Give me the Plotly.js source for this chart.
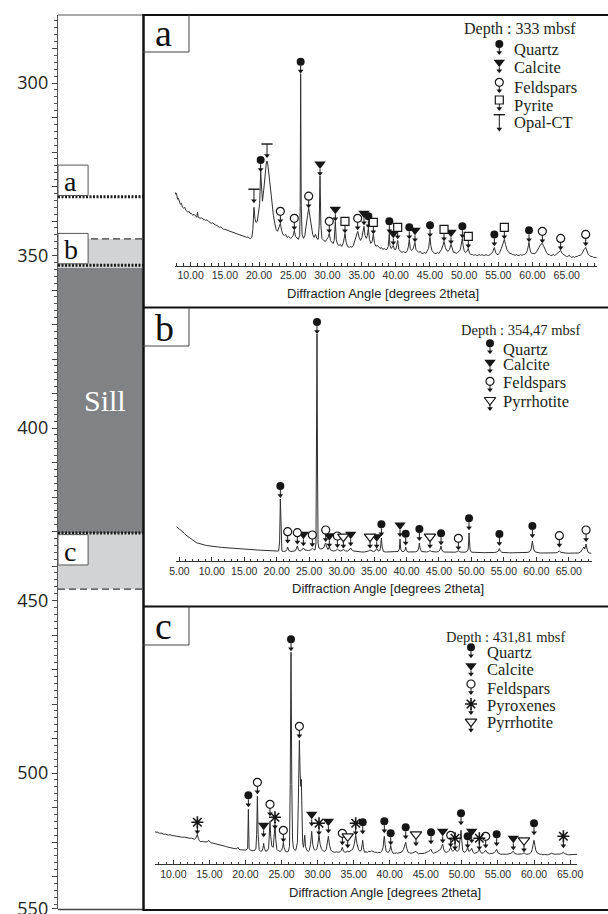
<!DOCTYPE html>
<html><head><meta charset="utf-8">
<script src="https://cdn.plot.ly/plotly-3.0.1.min.js"></script>
<style>html,body{margin:0;padding:0;background:#fff}#chart{width:608px;height:914px}</style>
</head><body><div id="chart"></div>
<script>
// ---------------- DATA ----------------
// Left column (depth, mbsf)
const sampleNames = ['a', 'b', 'c'];
const sampleDepths = [333.0, 352.8, 430.4];
const sillDepths = [353.6, 430.4];
const lightZones = [[345.2, 353.6], [430.4, 446.7]];
const dashedDepths = [345.2, 446.7];
const depthTicks = [290,300,310,320,330,340,350,360,370,380,390,400,410,420,430,440,450,460,470,480,490,500,510,520,530,539.3];
const depthTickText = ['','300','','','','','350','','','','','400','','','','','450','','','','','500','','','','550'];

// Panel titles
const depthTitles = ['Depth : 333 mbsf', 'Depth : 354,47 mbsf', 'Depth : 431,81 mbsf'];
const legendA = ['Quartz', 'Calcite', 'Feldspars', 'Pyrite', 'Opal-CT'];
const legendB = ['Quartz', 'Calcite', 'Feldspars', 'Pyrrhotite'];
const legendC = ['Quartz', 'Calcite', 'Feldspars', 'Pyroxenes', 'Pyrrhotite'];
const axisTitle = 'Diffraction Angle [degrees 2theta]';

// Spectrum a : [2theta, relative intensity]
const spectrumA = [[7.71,73],[7.8,71],[7.9,72],[8.0,68],[8.1,66],[8.2,67],[8.3,64],[8.5,61],[8.65,62],[8.8,58],[9.0,57],[9.15,58],[9.3,55],[9.6,53],[9.75,54],[9.9,52],[10.1,52],[10.3,50],[10.5,51],[10.7,49],[10.9,48],[11.0,53],[11.1,48],[11.4,47],[11.6,47.5],[11.8,46],[12.0,46],[12.2,45],[12.4,45.5],[12.6,44],[12.8,43],[13.0,42],[13.2,42.5],[13.4,41],[13.6,40.5],[13.8,40],[14.0,39],[14.2,38],[14.4,38.5],[14.6,37],[14.8,36],[15.0,36],[15.2,35.5],[15.4,35],[15.6,34],[15.8,34],[16.0,33],[16.2,33],[16.4,32.5],[16.6,32],[16.8,31],[17.0,31],[17.2,30.5],[17.4,30],[17.6,29],[17.8,29],[18.0,28.5],[18.2,28],[18.4,28.5],[18.6,27],[18.8,27],[18.95,28],[19.1,36],[19.26,58],[19.4,47],[19.55,43],[19.75,44],[19.95,52],[20.1,62],[20.24,94],[20.36,70],[20.5,64],[20.7,76],[20.9,92],[21.05,101],[21.17,104],[21.3,100],[21.5,88],[21.7,74],[21.9,60],[22.1,50],[22.3,42],[22.5,36],[22.7,34],[22.9,37],[23.12,42],[23.3,35],[23.5,31],[23.7,30],[23.9,31],[24.1,28],[24.3,29],[24.6,27],[24.8,28],[25.0,30],[25.16,35],[25.35,29],[25.55,27],[25.75,26],[25.95,30],[26.02,60],[26.09,191],[26.17,60],[26.3,31],[26.5,27],[26.7,30],[26.9,38],[27.1,50],[27.26,57],[27.45,48],[27.65,37],[27.85,31],[28.05,28],[28.25,31],[28.45,27],[28.65,26],[28.8,40],[28.92,89],[29.05,40],[29.2,27],[29.45,25],[29.7,24],[29.9,26],[30.1,28],[30.28,32],[30.45,25],[30.65,23],[30.85,22],[31.0,25],[31.16,44],[31.3,26],[31.5,21],[31.7,20],[31.9,21],[32.1,19],[32.35,23],[32.57,32],[32.75,23],[32.95,19],[33.2,18],[33.4,19],[33.6,18],[33.8,20],[34.0,24],[34.2,29],[34.43,34],[34.65,28],[34.85,25],[35.05,28],[35.2,33],[35.35,39],[35.5,30],[35.7,27],[35.85,30],[35.99,37],[36.15,26],[36.35,22],[36.55,24],[36.72,31],[36.9,22],[37.1,19],[37.3,20],[37.5,18],[37.7,17],[37.9,18],[38.1,16],[38.3,17],[38.5,16],[38.7,16],[38.9,19],[38.98,26],[39.06,32],[39.15,20],[39.3,17],[39.5,18],[39.64,20],[39.8,16],[40.0,16],[40.15,20],[40.28,25],[40.45,16],[40.7,14],[40.9,13],[41.1,14],[41.3,13],[41.5,13],[41.7,15],[41.85,19],[41.98,26],[42.12,17],[42.3,15],[42.5,16],[42.65,19],[42.81,23],[42.95,16],[43.15,14],[43.35,13],[43.6,14],[43.8,12],[44.0,12],[44.2,13],[44.4,12],[44.6,14],[44.8,17],[44.92,24],[45.01,28],[45.12,20],[45.3,15],[45.5,13],[45.7,12],[45.9,12],[46.1,13],[46.3,12],[46.5,14],[46.7,16],[46.9,20],[47.06,24],[47.25,18],[47.45,15],[47.65,14],[47.85,16],[48.08,21],[48.25,16],[48.45,13],[48.65,13],[48.85,12],[49.05,13],[49.25,14],[49.45,16],[49.62,21],[49.74,27],[49.85,20],[50.0,15],[50.2,13],[50.4,14],[50.61,17],[50.8,12],[51.0,11],[51.2,11],[51.4,10],[51.6,11],[51.8,10],[52.0,10],[52.2,11],[52.4,10],[52.6,11],[52.8,10],[53.0,10],[53.2,11],[53.4,10],[53.6,10],[53.8,11],[54.0,12],[54.2,14],[54.42,18],[54.6,13],[54.8,11],[55.0,11],[55.2,13],[55.45,17],[55.65,22],[55.88,26],[56.05,21],[56.25,16],[56.45,14],[56.65,12],[56.85,12],[57.05,11],[57.25,11],[57.45,10],[57.65,11],[57.85,10],[58.05,10],[58.25,11],[58.45,10],[58.65,11],[58.85,11],[59.05,12],[59.25,15],[59.38,20],[59.49,23],[59.6,17],[59.75,13],[59.95,12],[60.15,12],[60.35,12],[60.55,13],[60.75,15],[60.95,18],[61.2,21],[61.44,22],[61.65,19],[61.85,15],[62.05,13],[62.25,11],[62.45,11],[62.65,10],[62.85,10],[63.05,11],[63.25,10],[63.45,11],[63.65,12],[63.85,13],[64.12,15],[64.35,12],[64.55,11],[64.75,10],[64.95,9],[65.15,9],[65.35,10],[65.55,9],[65.75,8],[65.95,9],[66.15,8],[66.35,9],[66.55,9],[66.75,10],[66.95,10],[67.15,11],[67.35,14],[67.55,16],[67.78,18],[67.95,14],[68.15,11],[68.35,10],[68.55,9],[68.75,9],[68.95,8],[69.15,8],[69.39,8]];

// Spectrum b
const spectrumB = [[4.59,34.3],[4.75,33],[4.9,32.5],[5.05,31.5],[5.2,31],[5.4,30],[5.6,29],[5.8,27.5],[6.0,26],[6.2,25],[6.4,24],[6.6,23],[6.8,22],[7.0,21],[7.2,20],[7.4,19.3],[7.6,18.5],[7.8,18],[8.0,17.5],[8.3,17],[8.6,16.5],[8.9,16],[9.2,15.5],[9.6,15],[10.0,14.7],[10.5,14.3],[11.0,14],[11.5,13.6],[12.0,13.3],[12.5,13],[13.0,12.8],[13.5,12.5],[14.0,12.3],[14.5,12.1],[15.0,12],[15.5,11.7],[16.0,11.5],[16.5,11.2],[17.0,11],[17.5,10.8],[18.0,10.5],[18.5,10.4],[19.0,10.2],[19.5,10.1],[20.0,10],[20.3,10],[20.45,20],[20.56,62],[20.67,20],[20.8,10],[21.1,9.5],[21.4,10],[21.55,11.5],[21.69,14],[21.85,10.5],[22.2,9.5],[22.5,9.8],[22.8,10],[23.0,12],[23.18,15],[23.35,11],[23.6,10],[23.85,11],[24.11,13],[24.35,11],[24.6,10.5],[24.9,10.5],[25.15,10.8],[25.35,11.5],[25.49,12.5],[25.7,11.5],[25.9,11],[26.05,18],[26.13,90],[26.21,227],[26.29,90],[26.37,18],[26.5,13],[26.8,12],[27.1,12.5],[27.3,14],[27.45,17],[27.55,18],[27.7,14],[27.9,11.5],[28.11,14],[28.3,11],[28.5,10.5],[28.8,10],[29.1,10.5],[29.35,12],[29.6,10.5],[29.9,10],[30.27,11.5],[30.6,10],[30.9,10],[31.15,11],[31.4,13],[31.65,10.5],[31.9,10],[32.3,9.5],[32.7,9],[33.1,9],[33.5,9],[33.9,9.5],[34.15,10],[34.38,11],[34.6,10],[34.9,9.5],[35.15,10],[35.41,12.5],[35.65,10],[35.9,10.5],[36.02,15],[36.13,23],[36.25,14],[36.45,9.5],[36.8,9],[37.2,9],[37.6,9.2],[38.0,9],[38.4,9],[38.7,9.5],[38.9,12],[39.0,22],[39.1,12],[39.3,9.5],[39.6,9.5],[39.78,11],[39.87,14],[39.97,11],[40.2,9],[40.6,9],[41.0,9],[41.4,9.2],[41.7,10],[41.88,13],[41.98,18],[42.08,13],[42.3,9.5],[42.7,9],[43.1,9],[43.4,9.5],[43.62,10.5],[43.85,9.5],[44.2,9],[44.6,9],[44.9,9.5],[45.15,11],[45.32,15],[45.45,11],[45.7,9],[46.1,8.8],[46.5,8.6],[47.0,8.6],[47.5,8.8],[47.8,9.3],[47.99,10.5],[48.2,9],[48.6,8.6],[49.0,8.8],[49.3,9.5],[49.5,12],[49.58,20],[49.63,28],[49.7,20],[49.8,11],[50.0,8.8],[50.4,8.6],[50.8,8.5],[51.2,8.4],[51.6,8.3],[52.0,8.3],[52.4,8.4],[52.8,8.3],[53.2,8.3],[53.6,8.5],[53.9,9],[54.15,10],[54.31,12.5],[54.45,10],[54.7,8.6],[55.1,8.3],[55.5,8.3],[55.9,8.2],[56.3,8.2],[56.7,8.2],[57.1,8.2],[57.5,8.2],[57.9,8.3],[58.3,8.3],[58.7,8.6],[59.0,9.5],[59.2,12],[59.32,17],[59.39,20],[59.48,16],[59.62,11],[59.85,9],[60.2,8.3],[60.6,8],[61.0,8],[61.4,8],[61.8,8],[62.2,8],[62.6,8],[63.0,8.2],[63.3,8.8],[63.55,10],[63.8,8.6],[64.2,8],[64.6,7.9],[65.0,7.8],[65.4,7.8],[65.8,7.8],[66.2,7.9],[66.5,8],[66.8,9],[67.05,11],[67.2,13],[67.35,14],[67.47,12],[67.57,14],[67.66,17],[67.78,13],[67.95,9],[68.15,8],[68.35,7.7],[68.5,7.7]];

// Spectrum c
const spectrumC = [[7.46,32.7],[7.6,32],[7.75,32.3],[7.9,31.5],[8.1,31],[8.3,31.2],[8.5,30.3],[8.7,30],[8.9,30.2],[9.1,29.5],[9.3,29.2],[9.5,29.5],[9.7,28.8],[9.9,28.7],[10.1,28.5],[10.3,28.2],[10.5,28],[10.7,28.3],[10.9,27.5],[11.1,27.6],[11.3,27],[11.5,27.2],[11.7,26.8],[11.9,26.5],[12.1,26.6],[12.3,26],[12.5,26.2],[12.7,25.5],[12.9,25],[13.1,26],[13.22,28],[13.33,30],[13.45,26],[13.6,23.5],[13.8,22.5],[14.0,23],[14.2,22.5],[14.4,22.3],[14.6,22],[14.75,22.5],[14.9,24],[15.05,22],[15.2,21.5],[15.4,21.3],[15.6,21],[15.8,20.5],[16.0,20.3],[16.2,19.8],[16.4,19.5],[16.6,19.3],[16.8,18.8],[17.0,18.5],[17.2,18],[17.4,17.5],[17.6,17],[17.8,16.8],[18.0,16.3],[18.2,16],[18.4,15.8],[18.6,15.6],[18.8,15.5],[18.95,17],[19.1,15],[19.3,14.5],[19.5,14.3],[19.7,14],[19.9,14],[20.1,14.2],[20.3,16],[20.4,55],[20.5,16],[20.7,14],[20.9,13.5],[21.1,13.8],[21.3,14],[21.45,16],[21.55,30],[21.65,68],[21.75,30],[21.9,14.5],[22.1,13],[22.3,13.5],[22.42,16],[22.52,21],[22.62,16],[22.8,13],[23.0,13.5],[23.2,16],[23.3,28],[23.4,43],[23.5,28],[23.65,18],[23.85,17],[24.0,28],[24.09,39],[24.2,25],[24.35,15],[24.55,13.5],[24.8,13],[25.0,14],[25.15,17],[25.25,22],[25.35,17],[25.55,13],[25.75,12.5],[25.95,13],[26.1,18],[26.2,80],[26.31,212],[26.42,80],[26.52,25],[26.65,16],[26.85,14],[27.0,14.5],[27.2,22],[27.32,60],[27.47,124],[27.58,90],[27.66,78],[27.74,85],[27.82,45],[27.92,22],[28.05,17],[28.15,23],[28.22,29],[28.32,18],[28.5,14],[28.7,13],[28.85,14],[29.02,20],[29.18,33],[29.32,20],[29.5,15],[29.7,14],[29.9,15.5],[30.05,21],[30.19,29],[30.35,20],[30.55,15],[30.8,13.5],[31.0,13],[31.2,15],[31.35,21],[31.49,28],[31.65,19],[31.85,14],[32.1,12.5],[32.35,12],[32.6,12.5],[32.85,12],[33.1,12.5],[33.28,14],[33.43,17],[33.58,13],[33.8,12],[34.0,12.5],[34.17,13],[34.35,12.5],[34.6,13.5],[34.85,15],[35.05,19],[35.28,29],[35.45,21],[35.65,15],[35.85,13],[36.05,14],[36.18,20],[36.25,24],[36.35,17],[36.5,12],[36.7,12.5],[36.9,12],[37.1,13],[37.3,12.5],[37.5,13.5],[37.7,12.5],[37.9,12],[38.1,12],[38.3,11.5],[38.5,12],[38.7,11.8],[38.9,13],[39.08,17],[39.18,25],[39.25,28],[39.35,20],[39.5,13],[39.7,12],[39.9,12.5],[40.03,15],[40.13,19],[40.25,14],[40.45,11],[40.7,11],[40.9,11.5],[41.1,11],[41.3,11.5],[41.5,11.5],[41.7,12.5],[41.9,15],[42.07,19],[42.21,22],[42.35,16],[42.55,12],[42.75,11.5],[42.95,11],[43.2,11.5],[43.45,12],[43.64,13],[43.8,11.5],[44.0,10.5],[44.2,10.8],[44.4,10.5],[44.6,10.8],[44.8,11],[45.0,11.5],[45.2,12],[45.4,13],[45.58,14],[45.72,15],[45.88,12],[46.05,11],[46.25,11.5],[46.45,12],[46.65,13],[46.85,14],[47.05,15],[47.2,18],[47.34,20],[47.48,15],[47.65,12.5],[47.85,12],[48.05,12.5],[48.25,14],[48.45,17],[48.6,14],[48.75,13],[48.9,14],[49.05,16],[49.2,13.5],[49.4,13],[49.6,15],[49.76,26],[49.88,34],[49.98,24],[50.12,14],[50.3,12],[50.5,12.5],[50.65,14],[50.8,17],[50.95,13],[51.15,13.5],[51.36,16],[51.55,12],[51.75,11],[51.95,11.5],[52.15,12],[52.3,13.5],[52.42,15],[52.6,12],[52.8,11],[53.0,11.5],[53.15,12.5],[53.3,14],[53.45,12],[53.65,11],[53.85,10.5],[54.05,10.8],[54.25,11],[54.45,11.5],[54.65,13],[54.82,15],[55.0,11.5],[55.2,10.5],[55.4,10],[55.6,10.2],[55.8,10],[56.0,10.2],[56.2,10],[56.4,10.3],[56.6,10.5],[56.8,11],[56.95,12],[57.13,13],[57.3,11],[57.5,10.2],[57.7,10],[57.9,10.2],[58.1,10],[58.3,10.3],[58.45,10.8],[58.61,11.5],[58.8,10.5],[59.0,10],[59.2,10.3],[59.4,10.5],[59.6,12],[59.75,15],[59.88,20],[60.0,24],[60.12,19],[60.25,14],[60.45,11.5],[60.65,10.5],[60.85,10],[61.05,10],[61.25,9.5],[61.45,9.8],[61.65,9.5],[61.85,9.5],[62.05,9.8],[62.25,10.3],[62.45,11],[62.6,10.5],[62.8,10],[63.0,10],[63.2,10.3],[63.4,10],[63.6,10.2],[63.8,10.8],[63.95,11.5],[64.07,12],[64.2,10.8],[64.4,10],[64.6,9.8],[64.8,9.5],[65.0,9.5],[65.2,9.8],[65.4,10.2],[65.6,10],[65.8,10],[66.0,10]];

// Peak identifications : [2theta, intensity at arrow tip]
const peaksA_Quartz = [[20.24,93],[26.09,191],[35.99,37],[39.06,32],[41.98,26],[45.01,28],[49.74,27],[54.42,19],[59.49,23]];
const peaksA_Calcite = [[28.92,89],[31.16,44],[35.35,40],[39.64,20],[42.81,23],[48.08,21]];
const peaksA_Feldspars = [[23.12,42],[25.16,35],[27.26,57],[30.28,32],[34.43,35],[61.44,22],[64.12,15],[67.78,19]];
const peaksA_Pyrite = [[32.57,32],[36.72,31],[40.28,26],[47.06,24],[50.61,17],[55.88,26]];
const peaksA_OpalCT = [[19.26,62],[21.17,107]];

const peaksB_Quartz = [[20.56,63],[26.21,227],[36.13,24.7],[39.87,15.3],[41.98,20],[45.32,15.7],[49.63,30.7],[54.31,15],[59.39,23]];
const peaksB_Calcite = [[24.11,14.7],[28.11,13.3],[31.4,14.7],[35.41,12.3],[39.0,24]];
const peaksB_Feldspars = [[21.69,17.3],[23.18,16.3],[25.49,14],[27.55,19],[29.35,13],[47.99,10.7],[63.55,13.3],[67.66,19]];
const peaksB_Pyrrhotite = [[30.27,12.3],[34.38,12.3],[43.62,12.3]];

const peaksC_Quartz = [[20.40,57],[26.31,213],[36.25,30],[39.25,31],[40.13,19],[42.21,25],[45.72,20],[49.88,39],[50.80,16],[54.82,18],[60.0,29]];
const peaksC_Calcite = [[22.52,27],[29.18,38],[31.49,31],[47.34,21],[51.36,21],[57.13,14]];
const peaksC_Feldspars = [[21.65,70],[23.40,48],[25.25,22],[27.47,126],[33.43,19],[48.45,17],[53.30,16]];
const peaksC_Pyroxenes = [[13.33,30],[24.09,35],[30.19,29],[35.28,29],[49.05,14],[52.42,14],[64.07,16]];
const peaksC_Pyrrhotite = [[34.17,16],[43.64,18],[58.61,12]];

// ---------------- STYLE / LAYOUT ----------------
const W = 608, H = 914;
const INK = '#161616';
const SERIF = 'Liberation Serif, Times New Roman, serif';
const SANS = 'Liberation Sans, Arial, sans-serif';
const PX = x => x / W, PY = y => 1 - y / H;

const MARK = {
  Quartz:     {symbol: 'circle', size: 8, fill: INK, half: 4},
  Calcite:    {symbol: 'triangle-down', size: 10, fill: INK, half: 5},
  Feldspars:  {symbol: 'circle', size: 8, fill: '#ffffff', half: 4},
  Pyrite:     {symbol: 'square', size: 8, fill: '#ffffff', half: 4},
  'Opal-CT':  {symbol: 'T'},
  Pyroxenes:  {symbol: 'asterisk', size: 10, half: 4},
  Pyrrhotite: {symbol: 'triangle-down', size: 10, fill: '#ffffff', half: 5}
};

const traces = [];
function addMarks(xa, ya, pairs, mineral, off, tLen, dir) {
  const st = MARK[mineral];
  const xs = pairs.map(p => p[0]), tips = pairs.map(p => p[1]);
  const isT = st.symbol === 'T';
  const top = isT ? tLen : off;
  const sx = [], sy = [];
  xs.forEach((x, i) => {
    sx.push(x, x, null);
    sy.push(tips[i] + dir * 1.5, tips[i] + dir * (isT ? tLen : off - st.half), null);
  });
  const base = {type: 'scatter', xaxis: xa, yaxis: ya, hoverinfo: 'skip', showlegend: false, cliponaxis: false};
  traces.push(Object.assign({}, base, {mode: 'lines', x: sx, y: sy, line: {color: INK, width: 1}}));
  traces.push(Object.assign({}, base, {mode: 'markers', x: xs, y: tips.map(t => t + dir * 2.6),
    marker: {symbol: 'triangle-down', size: 5, color: INK, line: {width: 0}}}));
  const sy2 = tips.map(t => t + dir * top);
  let marker;
  if (isT) marker = {symbol: 'line-ew', size: 8, color: INK, line: {color: INK, width: 1.4}};
  else if (st.symbol === 'asterisk') marker = {symbol: 'asterisk', size: st.size, color: INK, line: {color: INK, width: 1.6}};
  else marker = {symbol: st.symbol, size: st.size, color: st.fill, line: {color: INK, width: st.fill === INK ? 0 : 1.2}};
  traces.push(Object.assign({}, base, {mode: 'markers', x: xs, y: sy2, marker}));
}

function addSpectrum(xa, ya, spec) {
  traces.push({type: 'scatter', mode: 'lines', xaxis: xa, yaxis: ya, hoverinfo: 'skip', showlegend: false,
    x: spec.map(p => p[0]), y: spec.map(p => p[1]), line: {color: '#2e2e2e', width: 1}});
}

// spectra
addSpectrum('x2', 'y2', spectrumA);
addSpectrum('x3', 'y3', spectrumB);
addSpectrum('x4', 'y4', spectrumC);

// peak marks
const OFF = 12, TL = 14;
addMarks('x2','y2', peaksA_Quartz, 'Quartz', OFF, TL, 1);
addMarks('x2','y2', peaksA_Calcite, 'Calcite', OFF, TL, 1);
addMarks('x2','y2', peaksA_Feldspars, 'Feldspars', OFF, TL, 1);
addMarks('x2','y2', peaksA_Pyrite, 'Pyrite', OFF, TL, 1);
addMarks('x2','y2', peaksA_OpalCT, 'Opal-CT', OFF, TL, 1);
addMarks('x3','y3', peaksB_Quartz, 'Quartz', OFF, TL, 1);
addMarks('x3','y3', peaksB_Calcite, 'Calcite', OFF, TL, 1);
addMarks('x3','y3', peaksB_Feldspars, 'Feldspars', OFF, TL, 1);
addMarks('x3','y3', peaksB_Pyrrhotite, 'Pyrrhotite', OFF, TL, 1);
addMarks('x4','y4', peaksC_Quartz, 'Quartz', OFF, TL, 1);
addMarks('x4','y4', peaksC_Calcite, 'Calcite', OFF, TL, 1);
addMarks('x4','y4', peaksC_Feldspars, 'Feldspars', OFF, TL, 1);
addMarks('x4','y4', peaksC_Pyroxenes, 'Pyroxenes', OFF, TL, 1);
addMarks('x4','y4', peaksC_Pyrrhotite, 'Pyrrhotite', OFF, TL, 1);

// legends (overlay axis in pixel units, y downward)
const annotations = [];
function addLegend(names, symX, tipYs, textX, textYs, fs) {
  names.forEach((n, i) => {
    addMarks('x5', 'y5', [[symX, tipYs[i]]], n, 11, 17, -1);
    annotations.push({xref: 'paper', yref: 'paper', x: PX(textX), y: PY(textYs[i]), xanchor: 'left', yanchor: 'middle',
      text: n, showarrow: false, borderpad: 0, font: {family: SERIF, size: fs, color: '#231f20'}});
  });
}
addLegend(legendA, 499.3, [55, 73.3, 93.3, 111, 131.7], 512.7, [49.6, 67.3, 87.3, 105.3, 122.9], 16.5);
addLegend(legendB, 490, [354.3, 373.3, 392.3, 411], 501.7, [349.6, 364.6, 382.9, 401.3], 16.5);
addLegend(legendC, 471, [658.3, 676.7, 695, 715, 732.7], 486, [652.9, 669.6, 688.9, 705.6, 722.9], 16.5);

// depth titles
[[520, 29.2, 16], [520, 329.7, 14.5], [505, 637, 14.5]].forEach((p, i) => {
  annotations.push({xref: 'paper', yref: 'paper', x: PX(p[0]), y: PY(p[1]), xanchor: 'center', yanchor: 'middle',
    text: depthTitles[i], showarrow: false, borderpad: 0, font: {family: SERIF, size: p[2], color: '#231f20'}});
});
// axis titles
[[383, 293], [388, 588], [385, 892]].forEach(p => {
  annotations.push({xref: 'paper', yref: 'paper', x: PX(p[0]), y: PY(p[1]), xanchor: 'center', yanchor: 'middle',
    text: axisTitle, showarrow: false, font: {family: SANS, size: 13, color: '#222'}});
});
// panel letters
[[163, 32.8], [164, 327.8], [163.5, 625.8]].forEach((p, i) => {
  annotations.push({xref: 'paper', yref: 'paper', x: PX(p[0]), y: PY(p[1]), xanchor: 'center', yanchor: 'middle',
    text: sampleNames[i], showarrow: false, font: {family: SERIF, size: 38, color: '#111'}});
});

// ---------------- SHAPES ----------------
const shapes = [];
// left column fills
lightZones.forEach(z => shapes.push({type: 'rect', xref: 'x', yref: 'y', x0: 0, x1: 1, y0: z[0], y1: z[1], fillcolor: '#d1d3d4', line: {width: 0}, layer: 'below'}));
shapes.push({type: 'rect', xref: 'x', yref: 'y', x0: 0, x1: 1, y0: sillDepths[0], y1: sillDepths[1], fillcolor: '#808285', line: {width: 0}, layer: 'below'});
dashedDepths.forEach(d => shapes.push({type: 'line', xref: 'x', yref: 'y', x0: 0, x1: 1, y0: d, y1: d, line: {color: '#3a3a3a', width: 1.3, dash: '7px,4px'}}));
sampleDepths.forEach(d => shapes.push({type: 'line', xref: 'x', yref: 'y', x0: 0, x1: 1, y0: d, y1: d, line: {color: '#1a1a1a', width: 3, dash: '2px,1.5px'}}));
// label boxes on the column
const boxH = 8.8;
sampleDepths.forEach((d, i) => {
  const below = i === 2;
  const y0 = below ? d + 0.5 : d - boxH - 0.4;
  const y1 = below ? d + 0.5 + boxH : d - 0.4;
  shapes.push({type: 'rect', xref: 'x', yref: 'y', x0: 0, x1: 0.35, y0, y1, fillcolor: '#ffffff', line: {color: '#555', width: 1}});
  annotations.push({xref: 'x', yref: 'y', x: 0.05, y: (y0 + y1) / 2 + 0.4, xanchor: 'left', yanchor: 'middle',
    text: sampleNames[i], showarrow: false, font: {family: SERIF, size: 28, color: '#111'}});
});
annotations.push({xref: 'x', yref: 'y', x: 0.55, y: (sillDepths[0] + sillDepths[1]) / 2, xanchor: 'center', yanchor: 'middle',
  text: 'Sill', showarrow: false, font: {family: SERIF, size: 30, color: '#ffffff'}});

function pline(x0, y0, x1, y1, color, width) {
  shapes.push({type: 'line', xref: 'paper', yref: 'paper', x0: PX(x0), x1: PX(x1), y0: PY(y0), y1: PY(y1), line: {color, width}});
}
// column top/bottom
pline(58, 15, 144, 15, '#555', 1);
pline(58, 909.5, 144, 909.5, '#444', 1.3);
// panels frame
pline(143.5, 14, 143.5, 911, '#111', 2.5);
pline(143, 15, 608, 15, '#111', 2.2);
pline(143, 307.5, 608, 307.5, '#111', 2.2);
pline(143, 606.5, 608, 606.5, '#111', 2.2);
pline(143, 910, 608, 910, '#111', 2);
// panel letter boxes
[[15, 52], [307.5, 346], [606.5, 645]].forEach(b => {
  pline(189, b[0], 189, b[1], '#444', 1);
  pline(143, b[1], 189, b[1], '#444', 1);
});

// ---------------- AXES ----------------
const tickFont = {family: SANS, size: 10.5, color: '#2b2b2b'};
function specX(p0, p1, range, anchor) {
  return {domain: [PX(p0), PX(p1)], range, anchor, tickmode: 'linear', tick0: 0, dtick: 5, tickformat: '.2f',
    ticks: 'inside', ticklen: 4, tickwidth: 1, tickcolor: '#333',
    minor: {tickmode: 'linear', tick0: 0, dtick: 1, ticks: 'inside', ticklen: 2.5, tickwidth: 1, tickcolor: '#333'},
    showline: true, linecolor: '#333', linewidth: 1, showgrid: false, zeroline: false, tickfont: tickFont, fixedrange: true};
}
function specY(pBot, pTop, top, anchor) {
  return {domain: [PY(pBot), PY(pTop)], range: [0, top], anchor, visible: false, fixedrange: true};
}

const layout = {
  width: W, height: H, margin: {l: 0, r: 0, t: 0, b: 0, pad: 0},
  paper_bgcolor: '#ffffff', plot_bgcolor: 'rgba(0,0,0,0)', showlegend: false,
  xaxis: {domain: [PX(58), PX(144)], range: [0, 1], visible: false, fixedrange: true, anchor: 'y'},
  yaxis: {domain: [PY(909), PY(15)], range: [539.42, 280.29], anchor: 'x', tickmode: 'array', tickvals: depthTicks, ticktext: depthTickText,
    ticks: 'outside', ticklen: 5, tickwidth: 1, tickcolor: '#444', ticklabeloverflow: 'allow',
    minor: {tickmode: 'linear', tick0: 280, dtick: 2, ticks: 'outside', ticklen: 3, tickwidth: 1, tickcolor: '#555'},
    showline: true, linecolor: '#555', linewidth: 1.2, showgrid: false, zeroline: false,
    tickfont: {family: 'Open Sans, DejaVu Sans, sans-serif', size: 18, color: '#231f20'}, fixedrange: true},
  xaxis2: specX(175, 596.7, [7.71, 69.39], 'y2'),
  yaxis2: specY(265.5, 15, 249.5, 'x2'),
  xaxis3: specX(176.1, 591.5, [4.5, 68.5], 'y3'),
  yaxis3: specY(561, 308, 253, 'x3'),
  xaxis4: specX(154.6, 577.3, [7.4, 66.0], 'y4'),
  yaxis4: specY(864.3, 607, 257.3, 'x4'),
  xaxis5: {domain: [0, 1], range: [0, W], visible: false, anchor: 'y5', fixedrange: true},
  yaxis5: {domain: [0, 1], range: [H, 0], visible: false, anchor: 'x5', fixedrange: true},
  shapes, annotations
};

Plotly.newPlot('chart', traces, layout, {displayModeBar: false, staticPlot: true});
</script>
</body></html>
